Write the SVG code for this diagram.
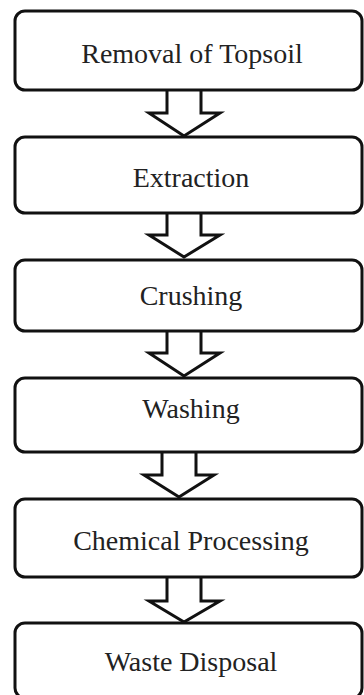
<svg xmlns="http://www.w3.org/2000/svg" width="364" height="695" viewBox="0 0 364 695">
  <style>
    .box { fill: #ffffff; stroke: #111111; stroke-width: 3; }
    .arrow { fill: #ffffff; stroke: #111111; stroke-width: 3; stroke-linejoin: miter; }
    .label { font-family: "Liberation Serif", "Times New Roman", serif; font-size: 28px; fill: #222222; text-anchor: middle; }
  </style>
  <rect width="364" height="695" fill="#ffffff"/>

  <g id="connectors">
    <path class="arrow" d="M167,90 V113 H149 L184,136 L220,113 H201 V90"/>
    <path class="arrow" d="M167,213 V235 H149 L184,257 L220,235 H201 V213"/>
    <path class="arrow" d="M167,331 V353 H149 L184,376 L220,353 H201 V331"/>
    <path class="arrow" d="M162,452 V475 H144 L179,497 L214,475 H196 V452"/>
    <path class="arrow" d="M167,577 V601 H149 L184,622 L220,601 H201 V577"/>
  </g>

  <g id="node-topsoil">
    <rect class="box" x="15" y="11" width="347" height="79" rx="10"/>
    <text class="label" x="192" y="63">Removal of Topsoil</text>
  </g>
  <g id="node-extraction">
    <rect class="box" x="15" y="137" width="347" height="76" rx="10"/>
    <text class="label" x="191" y="187">Extraction</text>
  </g>
  <g id="node-crushing">
    <rect class="box" x="15" y="260" width="347" height="71" rx="10"/>
    <text class="label" x="191" y="305">Crushing</text>
  </g>
  <g id="node-washing">
    <rect class="box" x="15" y="378" width="347" height="74" rx="10"/>
    <text class="label" x="191" y="418">Washing</text>
  </g>
  <g id="node-chemical">
    <rect class="box" x="15" y="499" width="347" height="78" rx="10"/>
    <text class="label" x="191" y="550">Chemical Processing</text>
  </g>
  <g id="node-waste">
    <rect class="box" x="15" y="623" width="347" height="75" rx="10"/>
    <text class="label" x="191" y="671">Waste Disposal</text>
  </g>
</svg>
